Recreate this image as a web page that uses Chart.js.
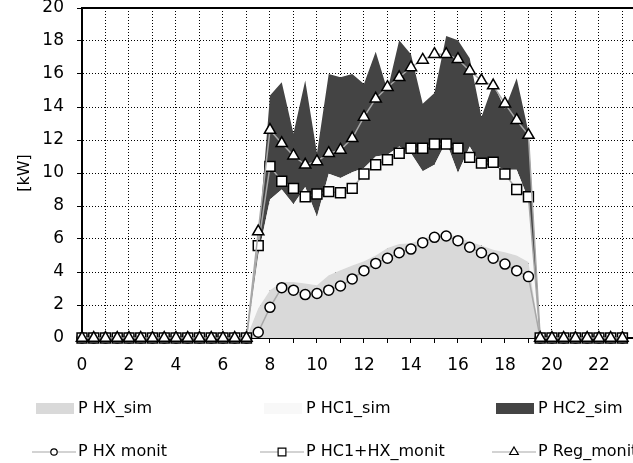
<!DOCTYPE html>
<html><head><meta charset="utf-8">
<script src="https://cdn.jsdelivr.net/npm/chart.js@4/dist/chart.umd.min.js"></script>
<style>html,body{margin:0;padding:0;background:#fff;overflow:hidden}#wrap{width:633px;height:463px;position:relative}canvas{display:block}</style>
</head><body><div id="wrap"><canvas id="c" width="633" height="463"></canvas></div>
<script>
const hours = [0,0.5,1,1.5,2,2.5,3,3.5,4,4.5,5,5.5,6,6.5,7,7.5,8,8.5,9,9.5,10,10.5,11,11.5,12,12.5,13,13.5,14,14.5,15,15.5,16,16.5,17,17.5,18,18.5,19,19.5,20,20.5,21,21.5,22,22.5,23];
const xTicks = [0,1,2,3,4,5,6,7,8,9,10,11,12,13,14,15,16,17,18,19,20,21,22,23];
const xTickLabels = ['0','','2','','4','','6','','8','','10','','12','','14','','16','','18','','20','','22',''];
const yTicks = [0,2,4,6,8,10,12,14,16,18,20];
const yTickLabels = ['0','2','4','6','8','10','12','14','16','18','20'];
const seriesNames = ['P HX_sim','P HC1_sim','P HC2_sim','P HX monit','P HC1+HX_monit','P Reg_monit'];

const hxSim = [0,0,0,0,0,0,0,0,0,0,0,0,0,0,0,
  1.8,2.9,3.4,3.4,3.3,3.2,3.8,4.1,4.4,4.65,5.0,5.45,5.7,5.75,6.0,6.25,6.35,6.1,5.85,5.6,5.35,5.2,5.0,4.6,
  0,0,0,0,0,0,0,0];
const hc1Sim = [0,0,0,0,0,0,0,0,0,0,0,0,0,0,0,
  3.2,5.5,5.6,4.7,5.85,4.15,6.15,5.6,5.65,5.65,6.0,5.65,5.9,5.45,4.1,4.25,5.55,3.9,5.75,4.8,5.15,5.0,5.2,3.8,
  0,0,0,0,0,0,0,0];
const hc2Sim = [0,0,0,0,0,0,0,0,0,0,0,0,0,0,0,
  0.8,6.3,6.5,4.3,6.45,3.85,6.05,6.1,5.95,5.1,6.35,3.9,6.45,6.0,4.1,4.35,6.4,8.05,5.35,3.0,4.9,3.7,5.55,4.1,
  0,0,0,0,0,0,0,0];
const hxMonit = [0,0,0,0,0,0,0,0,0,0,0,0,0,0,0,
  0.35,1.86,3.05,2.9,2.63,2.7,2.9,3.15,3.58,4.08,4.52,4.83,5.17,5.39,5.78,6.1,6.18,5.9,5.5,5.17,4.83,4.48,4.08,3.72,
  0,0,0,0,0,0,0,0];
const hc1hxMonit = [0,0,0,0,0,0,0,0,0,0,0,0,0,0,0,
  5.6,10.4,9.5,9.07,8.56,8.73,8.87,8.8,9.07,9.94,10.5,10.8,11.2,11.5,11.5,11.76,11.76,11.5,10.95,10.6,10.65,9.94,9.0,8.56,
  0,0,0,0,0,0,0,0];
const regMonit = [0,0,0,0,0,0,0,0,0,0,0,0,0,0,0,
  6.45,12.6,11.8,11.05,10.5,10.7,11.2,11.4,12.1,13.4,14.5,15.2,15.8,16.4,16.85,17.2,17.2,16.9,16.2,15.6,15.3,14.2,13.2,12.3,
  0,0,0,0,0,0,0,0];

const pts = arr => hours.map((h, i) => ({x: h, y: arr[i]}));
const FONT = 'DejaVu Sans';

const areaDs = (label, data, color, fill) => ({
  label, data: pts(data), stack: 'sim', fill, backgroundColor: color, borderColor: color,
  borderWidth: 0, pointRadius: 0, tension: 0, order: 3, legendKind: 'box'
});
const lineDs = (label, data, style, radius, stack, order) => ({
  label, data: pts(data), stack, fill: false, borderColor: '#a8a8a8', borderWidth: 1.5,
  pointStyle: style, pointRadius: radius, pointBackgroundColor: '#ffffff', pointBorderColor: '#000000',
  pointBorderWidth: 1.5, tension: 0, order, clip: false, legendKind: 'line'
});

const legendCols = [36, 264, 496];
const legendRows = [409, 452];
const legendMarker = {circle: 3.2, rect: 5.5, triangle: 5};

const gridLegend = {
  id: 'gridLegend',
  afterDraw(chart) {
    const ctx = chart.ctx;
    const {left, right, top} = chart.chartArea;
    ctx.save();
    ctx.strokeStyle = '#000'; ctx.lineWidth = 2;
    ctx.beginPath(); ctx.moveTo(left, top); ctx.lineTo(right + 2, top); ctx.stroke();
    ctx.font = '16px "' + FONT + '"';
    ctx.textBaseline = 'middle'; ctx.textAlign = 'left';
    chart.data.datasets.forEach((d, i) => {
      const x0 = legendCols[i % 3], y = legendRows[Math.floor(i / 3)];
      if (d.legendKind === 'box') {
        ctx.fillStyle = d.backgroundColor;
        ctx.fillRect(x0, y - 6, 38, 11);
      } else {
        ctx.strokeStyle = d.borderColor; ctx.lineWidth = 1.2;
        ctx.beginPath(); ctx.moveTo(x0 - 4, y); ctx.lineTo(x0 + 40, y); ctx.stroke();
        ctx.fillStyle = '#fff'; ctx.strokeStyle = '#000'; ctx.lineWidth = 1.2;
        Chart.helpers.drawPoint(ctx, {pointStyle: d.pointStyle, radius: legendMarker[d.pointStyle], borderWidth: 1.2, rotation: 0}, x0 + 18, y);
      }
      ctx.fillStyle = '#000';
      ctx.fillText(d.label, x0 + 42, y);
    });
    ctx.restore();
  }
};

new Chart(document.getElementById('c'), {
  type: 'line',
  data: {
    datasets: [
      areaDs(seriesNames[0], hxSim, '#d9d9d9', 'origin'),
      areaDs(seriesNames[1], hc1Sim, '#f8f8f8', '-1'),
      areaDs(seriesNames[2], hc2Sim, '#444444', '-1'),
      lineDs(seriesNames[3], hxMonit, 'circle', 5, 'm1', 2),
      lineDs(seriesNames[4], hc1hxMonit, 'rect', 7, 'm2', 1),
      lineDs(seriesNames[5], regMonit, 'triangle', 6.5, 'm3', 0)
    ]
  },
  options: {
    responsive: false, animation: false, devicePixelRatio: 1,
    layout: {padding: {top: 8, left: 0, right: 0, bottom: 0}, autoPadding: false},
    plugins: {legend: {display: false}, tooltip: {enabled: false}},
    scales: {
      x: {
        type: 'linear', min: 0, max: 23.45,
        afterBuildTicks: s => { s.ticks = xTicks.map(v => ({value: v})); },
        afterFit: s => { s.height = 125; s.paddingLeft = 0; s.paddingRight = 0; },
        ticks: {autoSkip: false, maxRotation: 0, includeBounds: false, padding: 12, color: '#000',
          font: {family: FONT, size: 17},
          callback: (v) => { const k = xTicks.indexOf(v); return k >= 0 ? xTickLabels[k] : ''; }},
        grid: {color: '#000', lineWidth: 1, tickLength: 5, tickColor: '#000', drawTicks: true},
        border: {display: true, color: '#000', width: 2, dash: [1, 2]}
      },
      y: {
        type: 'linear', min: 0, max: 20, stacked: true,
        afterBuildTicks: s => { s.ticks = yTicks.map(v => ({value: v})); },
        afterFit: s => { s.width = 82; s.paddingTop = 0; s.paddingBottom = 0; },
        ticks: {padding: 13, color: '#000', font: {family: FONT, size: 17},
          callback: (v) => { const k = yTicks.indexOf(v); return k >= 0 ? yTickLabels[k] : ''; }},
        grid: {color: '#000', lineWidth: 1, tickLength: 5, tickColor: '#000', drawTicks: true},
        border: {display: true, color: '#000', width: 2, dash: [1, 2]},
        title: {display: true, text: '[kW]', color: '#000', font: {family: FONT, size: 16}, padding: {top: 15, bottom: 0}}
      }
    }
  },
  plugins: [gridLegend]
});
</script></body></html>
